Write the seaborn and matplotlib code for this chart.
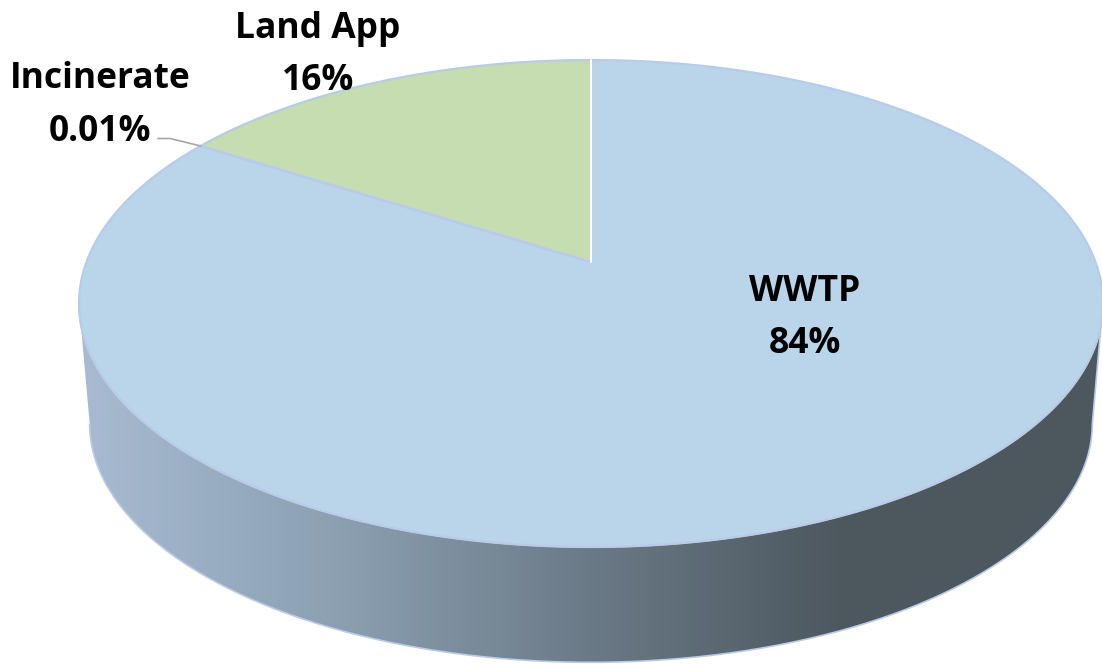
import numpy as np
import matplotlib
matplotlib.use('Agg')
import matplotlib.pyplot as plt
from matplotlib.patches import PathPatch
from matplotlib.path import Path
from matplotlib.transforms import Transform
import seaborn as sns

categories = ['WWTP', 'Incinerate', 'Land App']
values = [84, 0.01, 16]
value_labels = ['84%', '0.01%', '16%']
slice_colors = ['#BAD4EA', '#BAD4EA', '#C5DDB0']
side_colors = ['#A8BBD2', '#8CA0B2', '#6B7A87', '#4C575E', '#4C575E']

sns.set_theme(style='white')
plt.rcParams['font.family'] = ['Open Sans', 'DejaVu Sans']


# the tilted look: unit circle of the pie to pixels, with perspective
class Tilt(Transform):
    input_dims = 2
    output_dims = 2

    def __init__(self, cx, cy, rx, ry, k):
        super().__init__()
        self.cx, self.cy, self.rx, self.ry, self.k = cx, cy, rx, ry, k

    def transform_non_affine(self, xy):
        xy = np.asarray(xy, dtype=float)
        w = 1 + self.k * xy[:, 1]
        return np.column_stack([self.cx + self.rx * xy[:, 0] / w,
                                self.cy - self.ry * xy[:, 1] / w])

    def transform_path_non_affine(self, path):
        # flatten the curves first, bezier control points do not survive the tilt
        pts = [c(np.linspace(0, 1, 40)) for c, code in path.iter_bezier()]
        return Path(self.transform_non_affine(np.vstack(pts)), closed=True)


k = 0.1705
top = Tilt(591, 262, 504.5, 236.4, k)
bottom = Tilt(591, 383, 494, 231.7, k)

fig, ax = plt.subplots(figsize=(11.02, 6.66), dpi=100)
fig.subplots_adjust(0, 0, 1, 1)

wedges, _ = ax.pie(values, colors=slice_colors, startangle=90, counterclock=False,
                   wedgeprops={'edgecolor': '#B9CBE8', 'linewidth': 1.6})
for w in wedges:
    w.set_transform(top + ax.transData)
    w.set_zorder(3)

# side of the disc, gradient clipped to the front rim (widest point to widest point)
t = np.linspace(np.pi + np.arcsin(k), 2 * np.pi - np.arcsin(k), 300)
ring = np.column_stack([np.cos(t), np.sin(t)])
rim = np.vstack([bottom.transform_non_affine(ring), top.transform_non_affine(ring)[::-1]])
side = PathPatch(Path(rim, closed=False), facecolor='none', edgecolor='#B9CBE8', linewidth=1.2, zorder=2)
ax.add_patch(side)
grad = np.array(sns.blend_palette(side_colors, 256))[None, :, :3]
img = ax.imshow(grad, extent=(78, 1102, 666, 0), aspect='auto', zorder=1)
img.set_clip_path(side)

ax.set_xlim(0, 1102)
ax.set_ylim(666, 0)
ax.set_aspect('auto')
ax.axis('off')

# white seam at 12 o'clock
seam = top.transform_non_affine(np.array([[0.0, 0.0], [0.0, 1.0]]))
ax.plot(seam[:, 0], seam[:, 1], color='white', lw=1.5, zorder=4)

# labels
label_pos = [(805, 318), (100, 105.5), (318, 55)]
for name, lab, (x, y) in zip(categories, value_labels, label_pos):
    ax.text(x, y, name + '\n' + lab, ha='center', va='center', fontsize=25.5,
            fontweight='bold', color='black', linespacing=1.6, zorder=5)

# leader line for the tiny slice
a = np.deg2rad(90 - 360 * (values[0] + values[1] / 2) / sum(values))
end = top.transform_non_affine(np.array([[np.cos(a), np.sin(a)]]))[0]
ax.plot([158, 170, end[0]], [138.5, 138.5, end[1]], color='#A6A6A6', lw=1.2, zorder=5)

fig.savefig('out.png', dpi=100)
